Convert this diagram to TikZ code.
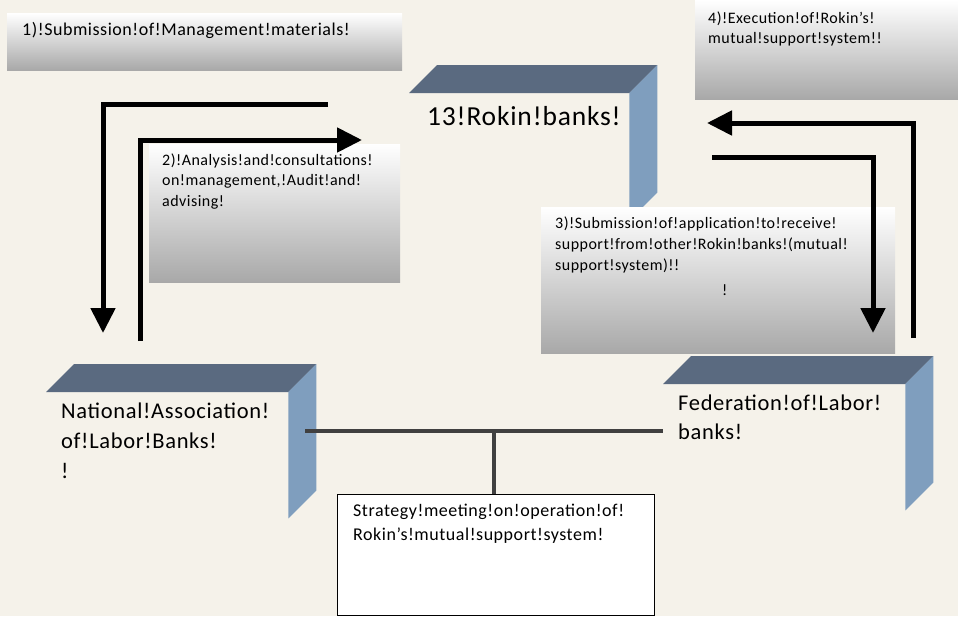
\documentclass[tikz,border=0pt]{standalone}
\usepackage{fontspec}
\setmainfont{Carlito}[LetterSpace=3]
\usetikzlibrary{arrows.meta,positioning}
\definecolor{paper}{HTML}{F5F2EA}
\definecolor{cubetop}{HTML}{5A6A80}
\definecolor{cubeside}{HTML}{7F9EBE}
\definecolor{linkgray}{HTML}{404040}

\begin{document}
\begin{tikzpicture}[x=1pt,y=-1pt,
    note/.style={anchor=north west, inner sep=0pt, top color=white, bottom color=black!34},
    front/.style={anchor=north west, inner sep=0pt},
    txt/.style={anchor=base west, inner sep=0pt, align=left},
    flow/.style={line width=5pt, -{Triangle[length=25pt,width=24pt]}},
    link/.style={line width=4.5pt, draw=linkgray}]
        % Background
        \fill[paper] (0,0) rectangle (958,616);
        \useasboundingbox (0,0) rectangle (958,616);

        % Shaded notes
        \node[note, minimum width=395pt, minimum height=57pt] (b1) at (7,13) {};
        \node[note, minimum width=263pt, minimum height=99pt] (b4) at (695,0) {};

        % The three cubes
        \node[front, minimum width=220pt, minimum height=127pt] (rokin) at (409,93) {};
        \node[front, minimum width=242pt, minimum height=126pt] (natl) at (46,392) {};
        \node[front, minimum width=242pt, minimum height=126pt] (fed) at (663,384) {};
        \foreach \c in {rokin,natl,fed} {
            \fill[cubetop] (\c.north west) -- ++(28,-28) -- ([shift={(28,-28)}]\c.north east) -- (\c.north east) -- cycle;
            \fill[cubeside] (\c.north east) -- ++(28,-28) -- ([shift={(28,-28)}]\c.south east) -- (\c.south east) -- cycle;
        }
        % (multi-line texts sit on the baseline of their last line)
        \node[txt, font=\fontsize{27.5}{33}\selectfont] (trokin) at ([shift={(18,32)}]rokin.north west) {13!Rokin!banks!};
        \node[txt, font=\fontsize{22.5}{30}\selectfont] (tnatl) at ([shift={(15,86)}]natl.north west) {National!Association!\\of!Labor!Banks!\\!};
        \node[txt, font=\fontsize{22.5}{29}\selectfont] (tfed) at ([shift={(15,55)}]fed.north west) {Federation!of!Labor!\\banks!};

        % Notes drawn over the cubes
        \node[note, minimum width=251pt, minimum height=138pt] (b2) at (149,144) {};
        \node[note, minimum width=354pt, minimum height=146pt] (b3) at (541,207) {};

        % Note texts
        \node[txt, font=\fontsize{18}{21}\selectfont] (t1) at ([shift={(15,22)}]b1.north west) {1)!Submission!of!Management!materials!};
        \node[txt, font=\fontsize{16}{20.5}\selectfont] (t2) at ([shift={(13,62)}]b2.north west) {2)!Analysis!and!consultations!\\on!management,!Audit!and!\\advising!};
        \node[txt, font=\fontsize{16}{21}\selectfont] (t3) at ([shift={(14,63)}]b3.north west) {3)!Submission!of!application!to!receive!\\support!from!other!Rokin!banks!(mutual!\\support!system)!!};
        \node[txt, font=\fontsize{16}{21}\selectfont] (t3b) at ([shift={(181,88)}]b3.north west) {!};
        \node[txt, font=\fontsize{16}{20}\selectfont] (t4) at ([shift={(13,43)}]b4.north west) {4)!Execution!of!Rokin’s!\\mutual!support!system!!};

        % Flow arrows
        \coordinate (a1s) at (328,104);
        \coordinate (a1e) at (103,333);
        \coordinate (a2s) at (140,341);
        \coordinate (a2e) at (362,140);
        \coordinate (a3s) at (712,157);
        \coordinate (a3e) at (873,333);
        \coordinate (a4s) at (913,338);
        \coordinate (a4e) at (707,123);
        \draw[flow] (a1s) -| (a1e);
        \draw[flow] (a2s) |- (a2e);
        \draw[flow] (a3s) -| (a3e);
        \draw[flow] (a4s) |- (a4e);

        % Strategy meeting
        \node[front, draw=black, line width=1.2pt, fill=white, minimum width=317pt, minimum height=121pt] (strat) at (337,494) {};
        \node[txt, font=\fontsize{18}{24}\selectfont] (tstrat) at ([shift={(16,46)}]strat.north west) {Strategy!meeting!on!operation!of!\\Rokin’s!mutual!support!system!};
        \coordinate (hubL) at (305,431);
        \coordinate (hub) at (494,431);
        \draw[link] (hubL) -- (hub -| fed.west);
        \draw[link] (hub) -- (hub |- strat.north);
    \end{tikzpicture}
\end{document}
